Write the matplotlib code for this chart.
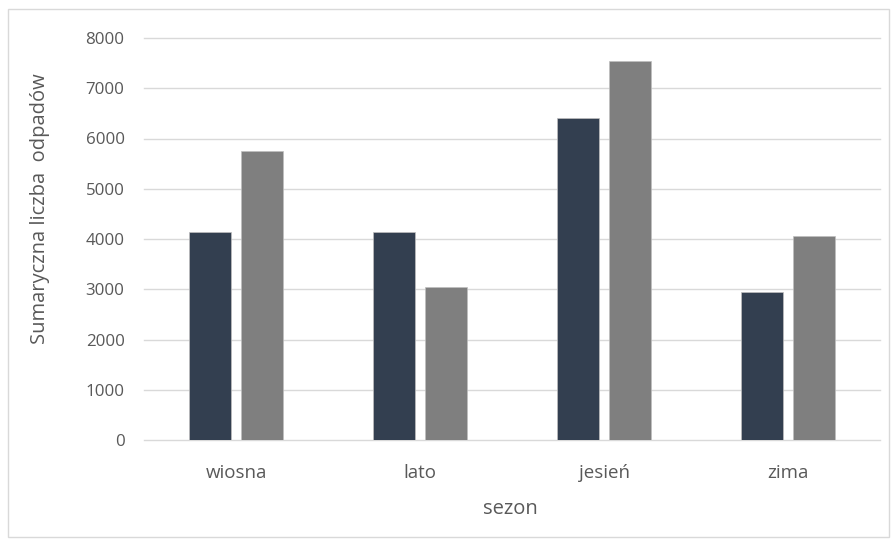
import matplotlib
matplotlib.use("Agg")
import matplotlib.pyplot as plt
import numpy as np
from matplotlib.patches import Rectangle

categories = ["wiosna", "lato", "jesień", "zima"]
series_a = [4130, 4145, 6410, 2955]
series_b = [5750, 3045, 7535, 4060]
yticks = [0, 1000, 2000, 3000, 4000, 5000, 6000, 7000, 8000]

plt.rcParams['font.family'] = ['Open Sans', 'DejaVu Sans']

fig = plt.figure(figsize=(8.96, 5.44), dpi=100)
# outer border
fig.patches.append(Rectangle((8/896, 7/544), 881/896, 528/544, transform=fig.transFigure,
                             fill=False, edgecolor='#D9D9D9', linewidth=1))
ax = fig.add_axes([144/896, 1 - 440/544, 736/896, (440 - 38)/544])

x = np.arange(len(categories))
w = 0.228
off = 0.143
ax.bar(x - off, series_a, width=w, color='#333F50', edgecolor='#BFBFBF', linewidth=0.5, zorder=3)
ax.bar(x + off, series_b, width=w, color='#7F7F7F', edgecolor='#BFBFBF', linewidth=0.5, zorder=3)

ax.set_xlim(-0.5, len(categories) - 0.5)
ax.set_ylim(0, 8000)
ax.set_yticks(yticks)
ax.set_yticklabels([str(v) for v in yticks])
ax.set_xticks(x)
ax.set_xticklabels(categories)
ax.grid(axis='y', color='#D9D9D9', linewidth=1, zorder=0)
for gl in ax.get_ygridlines():
    gl.set_clip_on(False)
for s in ax.spines.values():
    s.set_visible(False)
ax.tick_params(axis='both', length=0, colors='#595959')
ax.tick_params(axis='y', pad=14, labelsize=12.2)
ax.tick_params(axis='x', pad=17, labelsize=13.5)
ax.set_xlabel("sezon", color='#595959', fontsize=14.5)
ax.set_ylabel("Sumaryczna liczba  odpadów", color='#595959', fontsize=14.5)
ax.xaxis.label.set_va('center')
ax.yaxis.label.set_va('center')
ax.xaxis.set_label_coords((510 - 144) / 736, -(509 - 440) / 402)
ax.yaxis.set_label_coords((40 - 144) / 736, (440 - 209) / 402)

fig.savefig("out.png", dpi=100)
